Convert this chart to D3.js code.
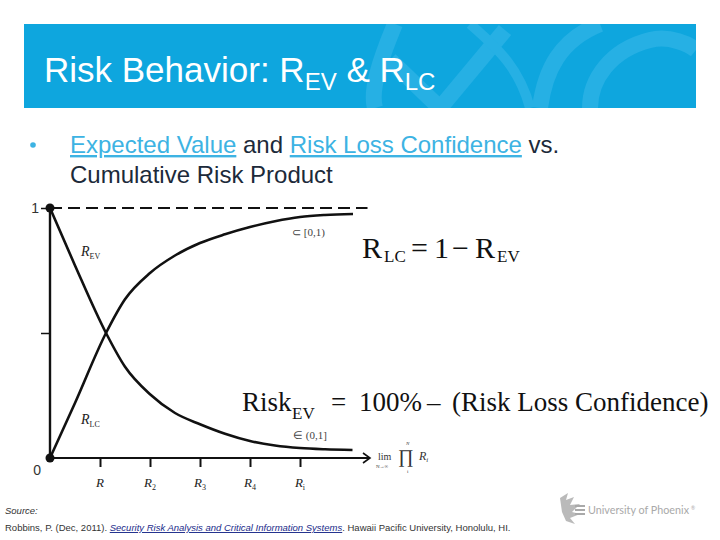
<!DOCTYPE html>
<html><head><meta charset="utf-8">
<script src="https://cdn.jsdelivr.net/npm/d3@7"></script>
<style>html,body{margin:0;padding:0;background:#fff;}svg{display:block;}</style>
</head><body>
<script>
// ---- data ----
const xTickValues = [1, 2, 3, 4, 5];
const xTickLabels = [["R", ""], ["R", "2"], ["R", "3"], ["R", "4"], ["R", "i"]];
const yTickValues = [0, 0.5, 1];
const yTickLabels = ["0", "", "1"];
const revX = [0, 0.5, 1.12, 1.5, 2, 2.5, 3, 3.5, 4, 4.5, 5, 5.5, 6.05];
const revY = [1, 0.77, 0.5, 0.365, 0.255, 0.18, 0.135, 0.097, 0.068, 0.05, 0.04, 0.035, 0.032];
const rlcX = [0, 0.5, 1.12, 1.5, 2, 2.5, 3, 3.5, 4, 4.5, 5, 5.5, 6.06];
const rlcY = [0, 0.22, 0.5, 0.635, 0.74, 0.81, 0.86, 0.895, 0.924, 0.947, 0.964, 0.972, 0.976];
const limitLine = 1;

const W = 720, H = 540;
const svg = d3.select("body").append("svg").attr("width", W).attr("height", H);

// ---- banner ----
const banner = svg.append("g");
banner.append("rect").attr("x", 24).attr("y", 24).attr("width", 672).attr("height", 84).attr("fill", "#0ea6de");
const clip = svg.append("clipPath").attr("id", "bclip");
clip.append("rect").attr("x", 24).attr("y", 24).attr("width", 672).attr("height", 84);
const deco = banner.append("g").attr("clip-path", "url(#bclip)").attr("fill", "none").attr("stroke", "#26b0e4").attr("stroke-width", 16);
deco.append("path").attr("d", "M395,24 C380,60 370,90 375,108");
deco.append("path").attr("d", "M440,108 L505,30");
deco.append("path").attr("d", "M390,60 L440,108");
deco.append("path").attr("d", "M540,108 C545,70 560,40 600,24");
deco.append("path").attr("d", "M590,108 C590,80 610,50 650,40 C670,35 690,45 696,50");
deco.append("path").attr("d", "M470,24 C500,50 520,70 530,108").attr("stroke-width", 10);

const title = banner.append("text").attr("x", 44).attr("y", 82)
  .attr("font-family", "Liberation Sans, Arial, sans-serif").attr("font-size", 35).attr("fill", "#fff");
title.append("tspan").text("Risk Behavior: R");
title.append("tspan").attr("dy", 8).attr("font-size", 24).text("EV");
title.append("tspan").attr("dy", -8).text(" & R");
title.append("tspan").attr("dy", 8).attr("font-size", 24).text("LC");

// ---- bullet ----
const bf = "Liberation Sans, Arial, sans-serif";
svg.append("circle").attr("cx", 33).attr("cy", 145).attr("r", 2.8).attr("fill", "#3db3e3");
const b1 = svg.append("text").attr("x", 70).attr("y", 153).attr("font-family", bf).attr("font-size", 24).attr("fill", "#1c2a3a");
b1.append("tspan").attr("fill", "#3db3e3").attr("text-decoration", "underline").text("Expected Value");
b1.append("tspan").text(" and ");
b1.append("tspan").attr("fill", "#3db3e3").attr("text-decoration", "underline").text("Risk Loss Confidence");
b1.append("tspan").text(" vs.");
svg.append("text").attr("x", 70).attr("y", 183).attr("font-family", bf).attr("font-size", 24).attr("fill", "#1c2a3a").text("Cumulative Risk Product");

// ---- chart ----
const x = d3.scaleLinear().domain([0, 6.4]).range([50, 370]);
const y = d3.scaleLinear().domain([0, 1]).range([458, 208]);
const chart = svg.append("g");

// dashed limit
chart.append("line").attr("x1", x(0)).attr("x2", x(6.35)).attr("y1", y(limitLine)).attr("y2", y(limitLine))
  .attr("stroke", "#111").attr("stroke-width", 2).attr("stroke-dasharray", "12,6");

// x axis
const xAxis = d3.axisBottom(x).tickValues(xTickValues).tickSize(9).tickFormat("");
const gx = chart.append("g").attr("transform", `translate(0,${y(0)})`).call(xAxis);
gx.select(".domain").remove();
gx.selectAll(".tick line").attr("stroke", "#111").attr("stroke-width", 2);
chart.append("line").attr("x1", x(0)).attr("x2", x(6.4)).attr("y1", y(0)).attr("y2", y(0)).attr("stroke", "#111").attr("stroke-width", 2.2);
chart.append("path").attr("d", `M${x(6.4) - 7},${y(0) - 5} L${x(6.4)},${y(0)} L${x(6.4) - 7},${y(0) + 5}`)
  .attr("fill", "none").attr("stroke", "#111").attr("stroke-width", 1.6);
xTickValues.forEach((v, i) => {
  const t = chart.append("text").attr("x", x(v)).attr("y", 487).attr("text-anchor", "middle")
    .attr("font-family", "Liberation Serif, Times New Roman, serif").attr("font-style", "italic").attr("font-size", 13).attr("fill", "#222");
  t.append("tspan").text(xTickLabels[i][0]);
  t.append("tspan").attr("dy", 3).attr("font-size", 8).attr("font-style", "normal").text(xTickLabels[i][1]);
});

// y axis
const yAxis = d3.axisLeft(y).tickValues(yTickValues).tickSize(9).tickFormat((d, i) => yTickLabels[i]);
const gy = chart.append("g").attr("transform", `translate(${x(0)},0)`).call(yAxis);
gy.select(".domain").remove();
gy.selectAll(".tick line").attr("stroke", "#111").attr("stroke-width", 1.5)
  .filter(d => d === 0).remove();
gy.selectAll(".tick text").attr("font-family", "Liberation Sans, Arial, sans-serif").attr("font-size", 14).attr("fill", "#333");
gy.selectAll(".tick").filter(d => d === 0).select("text").attr("x", -9).attr("dy", "1.2em");
gy.selectAll(".tick").filter(d => d === 1).select("text").attr("x", -11);
chart.append("line").attr("x1", x(0)).attr("x2", x(0)).attr("y1", y(0)).attr("y2", y(1)).attr("stroke", "#111").attr("stroke-width", 2.4);

// curves
const line = d3.line().x(d => x(d[0])).y(d => y(d[1])).curve(d3.curveMonotoneX);
chart.append("path").datum(revX.map((v, i) => [v, revY[i]])).attr("d", line)
  .attr("fill", "none").attr("stroke", "#111").attr("stroke-width", 2.6);
chart.append("path").datum(rlcX.map((v, i) => [v, rlcY[i]])).attr("d", line)
  .attr("fill", "none").attr("stroke", "#111").attr("stroke-width", 2.6);
chart.append("circle").attr("cx", x(0)).attr("cy", y(1)).attr("r", 4.5).attr("fill", "#111");
chart.append("circle").attr("cx", x(0)).attr("cy", y(0)).attr("r", 4.5).attr("fill", "#111");

// curve labels
const serif = "Liberation Serif, Times New Roman, serif";
function rlabel(px, py, sub) {
  const t = chart.append("text").attr("x", px).attr("y", py).attr("font-family", serif).attr("font-size", 14).attr("fill", "#222");
  t.append("tspan").attr("font-style", "italic").text("R");
  t.append("tspan").attr("dy", 3).attr("font-size", 8).text(sub);
}
rlabel(81, 256, "EV");
rlabel(81, 424, "LC");
chart.append("text").attr("x", 292).attr("y", 236).attr("font-family", serif).attr("font-size", 11).attr("fill", "#444").text("⊂ [0,1)");
chart.append("text").attr("x", 293).attr("y", 439).attr("font-family", serif).attr("font-size", 11).attr("fill", "#444").text("∈ (0,1]");

// x axis label: lim prod R_i
const lim = chart.append("g").attr("font-family", serif).attr("fill", "#333");
lim.append("text").attr("x", 378).attr("y", 460).attr("font-size", 10).text("lim");
lim.append("text").attr("x", 376).attr("y", 468).attr("font-size", 5).text("N→∞");
lim.append("text").attr("x", 398).attr("y", 463).attr("font-size", 19).text("∏");
lim.append("text").attr("x", 406).attr("y", 445).attr("font-size", 5).attr("font-style", "italic").text("N");
lim.append("text").attr("x", 407).attr("y", 473).attr("font-size", 5).text("i");
const ri = lim.append("text").attr("x", 419).attr("y", 460).attr("font-size", 12).attr("font-style", "italic");
ri.append("tspan").text("R");
ri.append("tspan").attr("dy", 2).attr("font-size", 7).text("i");

// formulas
function put(g, txt, px, py, size) {
  return g.append("text").attr("x", px).attr("y", py).attr("font-family", serif).attr("font-size", size).attr("fill", "#111").text(txt);
}
const f1 = chart.append("g");
put(f1, "R", 362, 258, 30);
put(f1, "LC", 384, 262, 17);
put(f1, "=", 411, 258, 30);
put(f1, "1", 434, 258, 30);
put(f1, "−", 452, 258, 30);
put(f1, "R", 475, 258, 30);
put(f1, "EV", 497, 262, 17);

const f2 = chart.append("g");
put(f2, "Risk", 242, 411, 27);
put(f2, "EV", 292, 419, 17);
put(f2, "=", 331, 411, 27);
put(f2, "100%", 359, 411, 27);
put(f2, "–", 427, 411, 27);
put(f2, "(Risk Loss Confidence)", 452, 411, 27);

// source
svg.append("text").attr("x", 5).attr("y", 514).attr("font-family", bf).attr("font-size", 9.5).attr("font-style", "italic").attr("fill", "#333").text("Source:");
const src = svg.append("text").attr("x", 5).attr("y", 531).attr("font-family", bf).attr("font-size", 9.5).attr("fill", "#333");
src.append("tspan").text("Robbins, P. (Dec, 2011). ");
src.append("tspan").attr("font-style", "italic").attr("fill", "#1a2a8a").attr("text-decoration", "underline").text("Security Risk Analysis and Critical Information Systems");
src.append("tspan").text(". Hawaii Pacific University, Honolulu, HI.");

// logo
const logo = svg.append("g").attr("fill", "#a9a9a9");
logo.append("path").attr("d", "M560,498 L568,493 L566,500 L574,497 L570,505 L580,504 L572,512 L580,514 L570,518 L575,524 L566,521 L562,512 Z").attr("opacity", 0.8);
logo.append("rect").attr("x", 575).attr("y", 505).attr("width", 10).attr("height", 2);
logo.append("rect").attr("x", 575).attr("y", 509).attr("width", 10).attr("height", 2);
logo.append("rect").attr("x", 575).attr("y", 513).attr("width", 10).attr("height", 2);
logo.append("text").attr("x", 588).attr("y", 514).attr("font-family", "Lato, Open Sans, sans-serif").attr("font-size", 10.5).attr("textLength", 101).attr("lengthAdjust", "spacingAndGlyphs").text("University of Phoenix");
logo.append("text").attr("x", 691).attr("y", 510).attr("font-family", "Lato, sans-serif").attr("font-size", 5).text("®");
</script>
</body></html>
